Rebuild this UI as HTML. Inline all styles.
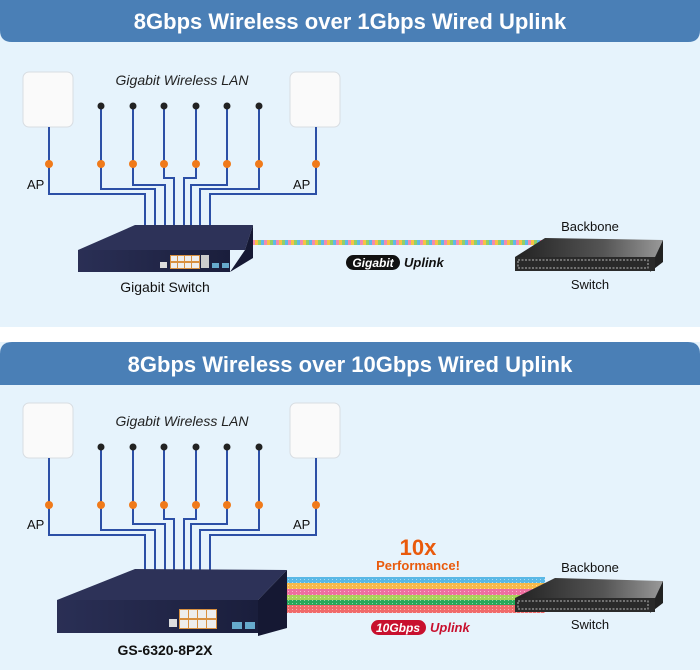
<!DOCTYPE html>
<html><head><meta charset="utf-8"><style>
html,body{margin:0;padding:0;background:#fff;}
svg{display:block;font-family:"Liberation Sans",sans-serif;}
</style></head><body>
<svg width="700" height="670" viewBox="0 0 700 670" xmlns="http://www.w3.org/2000/svg">
<defs>
<linearGradient id="sw" x1="0" x2="1" y1="0" y2="0"><stop offset="0" stop-color="#2a2f55"/><stop offset="1" stop-color="#1a1e3c"/></linearGradient>
<linearGradient id="bb" x1="0" x2="1" y1="0" y2="0"><stop offset="0" stop-color="#222"/><stop offset="0.6" stop-color="#555"/><stop offset="1" stop-color="#999"/></linearGradient>
<pattern id="rb" width="12" height="4" patternUnits="userSpaceOnUse"><rect width="3" height="4" fill="#f28ab0"/><rect x="3" width="3" height="4" fill="#f7c244"/><rect x="6" width="3" height="4" fill="#8fd06a"/><rect x="9" width="3" height="4" fill="#5fb8e8"/></pattern>
<pattern id="dots" width="4" height="3" patternUnits="userSpaceOnUse"><rect width="1" height="1" fill="#fff" opacity="0.5"/></pattern>
</defs>
<rect width="700" height="670" fill="#e6f3fc"/>
<rect x="0" y="327" width="700" height="15" fill="#fff"/>
<path d="M0,0H700V30Q700,42 688,42H12Q0,42 0,30Z" fill="#4a7fb6"/>
<text x="350" y="29" font-size="22" font-weight="bold" fill="#fff" text-anchor="middle">8Gbps Wireless over 1Gbps Wired Uplink</text>
<path d="M12,342H688Q700,342 700,354V385H0V354Q0,342 12,342Z" fill="#4a7fb6"/>
<text x="350" y="372" font-size="22" font-weight="bold" fill="#fff" text-anchor="middle">8Gbps Wireless over 10Gbps Wired Uplink</text>

<text x="182" y="85" font-size="14" font-style="italic" fill="#222" text-anchor="middle">Gigabit Wireless LAN</text>
<rect x="23" y="72" width="50" height="55" rx="6" fill="#fafafa" stroke="#d8dde2"/>
<rect x="290" y="72" width="50" height="55" rx="6" fill="#fafafa" stroke="#d8dde2"/>
<g fill="none" stroke="#2c4fa6" stroke-width="2">
<path d="M49,127V194H145V225"/><path d="M101,106V189H155V225"/><path d="M133,106V185H165V225"/><path d="M164,106V178H174V225"/>
<path d="M196,106V178H184V225"/><path d="M227,106V185H191V225"/><path d="M259,106V189H200V225"/><path d="M316,127V194H210V225"/>
</g>
<g fill="#222"><circle cx="101" cy="106" r="3.5"/><circle cx="133" cy="106" r="3.5"/><circle cx="164" cy="106" r="3.5"/><circle cx="196" cy="106" r="3.5"/><circle cx="227" cy="106" r="3.5"/><circle cx="259" cy="106" r="3.5"/></g>
<g fill="#f07a1a"><circle cx="49" cy="164" r="4"/><circle cx="101" cy="164" r="4"/><circle cx="133" cy="164" r="4"/><circle cx="164" cy="164" r="4"/><circle cx="196" cy="164" r="4"/><circle cx="227" cy="164" r="4"/><circle cx="259" cy="164" r="4"/><circle cx="316" cy="164" r="4"/></g>
<text x="27" y="189" font-size="13" fill="#111">AP</text><text x="293" y="189" font-size="13" fill="#111">AP</text>
<rect x="253" y="240" width="290" height="5" fill="url(#rb)"/>
<polygon points="78,250 135,225 253,225 245,250" fill="#2d3258"/>
<polygon points="245,250 253,225 253,258 230,272" fill="#151833"/>
<rect x="78" y="250" width="152" height="22" fill="url(#sw)"/>
<rect x="170" y="255" width="30" height="14" fill="#d89040"/>
<g fill="#eee"><rect x="171" y="256" width="6" height="5"/><rect x="178" y="256" width="6" height="5"/><rect x="185" y="256" width="6" height="5"/><rect x="192" y="256" width="7" height="5"/><rect x="171" y="263" width="6" height="5"/><rect x="178" y="263" width="6" height="5"/><rect x="185" y="263" width="6" height="5"/><rect x="192" y="263" width="7" height="5"/></g>
<rect x="201" y="255" width="8" height="13" fill="#ccc"/>
<rect x="160" y="262" width="7" height="6" fill="#ddd"/>
<rect x="212" y="263" width="7" height="5" fill="#6ac"/><rect x="222" y="263" width="7" height="5" fill="#6ac"/>
<text x="165" y="292" font-size="14" fill="#111" text-anchor="middle">Gigabit Switch</text>
<rect x="346" y="255" width="54" height="15" rx="7.5" fill="#111"/>
<text x="373" y="267" font-size="12" font-weight="bold" font-style="italic" fill="#fff" text-anchor="middle">Gigabit</text>
<text x="404" y="267" font-size="13" font-weight="bold" font-style="italic" fill="#111">Uplink</text>
<polygon points="515,257 545,238 663,240 655,257" fill="url(#bb)"/>
<polygon points="655,257 663,240 663,262 650,272" fill="#222"/>
<rect x="515" y="257" width="140" height="14" fill="#2a2a2a"/>
<rect x="518" y="260" width="130" height="8" fill="none" stroke="#bbb" stroke-dasharray="2,1.5"/>
<text x="590" y="231" font-size="13" fill="#111" text-anchor="middle">Backbone</text>
<text x="590" y="289" font-size="13" fill="#111" text-anchor="middle">Switch</text>

<text x="182" y="426" font-size="14" font-style="italic" fill="#222" text-anchor="middle">Gigabit Wireless LAN</text>
<rect x="23" y="403" width="50" height="55" rx="6" fill="#fafafa" stroke="#d8dde2"/>
<rect x="290" y="403" width="50" height="55" rx="6" fill="#fafafa" stroke="#d8dde2"/>
<g fill="none" stroke="#2c4fa6" stroke-width="2">
<path d="M49,458V535H145V570"/><path d="M101,447V530H155V570"/><path d="M133,447V524H165V570"/><path d="M164,447V519H174V570"/>
<path d="M196,447V519H184V570"/><path d="M227,447V524H191V570"/><path d="M259,447V530H200V570"/><path d="M316,458V535H210V570"/>
</g>
<g fill="#222"><circle cx="101" cy="447" r="3.5"/><circle cx="133" cy="447" r="3.5"/><circle cx="164" cy="447" r="3.5"/><circle cx="196" cy="447" r="3.5"/><circle cx="227" cy="447" r="3.5"/><circle cx="259" cy="447" r="3.5"/></g>
<g fill="#f07a1a"><circle cx="49" cy="505" r="4"/><circle cx="101" cy="505" r="4"/><circle cx="133" cy="505" r="4"/><circle cx="164" cy="505" r="4"/><circle cx="196" cy="505" r="4"/><circle cx="227" cy="505" r="4"/><circle cx="259" cy="505" r="4"/><circle cx="316" cy="505" r="4"/></g>
<text x="27" y="529" font-size="13" fill="#111">AP</text><text x="293" y="529" font-size="13" fill="#111">AP</text>
<rect x="285" y="577" width="260" height="6" fill="#5ab8e6"/>
<rect x="285" y="583" width="260" height="6" fill="#f7b94a"/>
<rect x="285" y="589" width="260" height="6" fill="#ee6fa0"/>
<rect x="285" y="595" width="260" height="6" fill="#a8d35a"/>
<rect x="285" y="600" width="260" height="5" fill="#27a85a"/>
<rect x="285" y="605" width="260" height="8" fill="#f06a6a"/>
<rect x="285" y="577" width="260" height="36" fill="url(#dots)"/>
<polygon points="57,600 135,569 287,570 258,600" fill="#2d3258"/>
<polygon points="258,600 287,570 287,628 258,636" fill="#151833"/>
<rect x="57" y="600" width="201" height="33" fill="url(#sw)"/>
<rect x="179" y="609" width="38" height="20" fill="#d89040"/>
<g fill="#eee"><rect x="180" y="610" width="8" height="8"/><rect x="189" y="610" width="8" height="8"/><rect x="198" y="610" width="8" height="8"/><rect x="207" y="610" width="9" height="8"/><rect x="180" y="620" width="8" height="8"/><rect x="189" y="620" width="8" height="8"/><rect x="198" y="620" width="8" height="8"/><rect x="207" y="620" width="9" height="8"/></g>
<rect x="169" y="619" width="8" height="8" fill="#ddd"/>
<rect x="232" y="622" width="10" height="7" fill="#6ac"/><rect x="245" y="622" width="10" height="7" fill="#6ac"/>
<text x="165" y="655" font-size="14" font-weight="bold" fill="#111" text-anchor="middle">GS-6320-8P2X</text>
<text x="418" y="555" font-size="22" font-weight="bold" fill="#e95a0c" text-anchor="middle">10x</text>
<text x="418" y="570" font-size="13" font-weight="bold" fill="#e95a0c" text-anchor="middle">Performance!</text>
<rect x="371" y="620" width="55" height="15" rx="7.5" fill="#c8102e"/>
<text x="398" y="632" font-size="12" font-weight="bold" font-style="italic" fill="#fff" text-anchor="middle">10Gbps</text>
<text x="430" y="632" font-size="13" font-weight="bold" font-style="italic" fill="#c8102e">Uplink</text>
<polygon points="515,598 555,578 663,581 655,598" fill="url(#bb)"/>
<polygon points="655,598 663,581 663,603 650,613" fill="#222"/>
<rect x="515" y="598" width="140" height="14" fill="#2a2a2a"/>
<rect x="518" y="601" width="130" height="8" fill="none" stroke="#bbb" stroke-dasharray="2,1.5"/>
<text x="590" y="572" font-size="13" fill="#111" text-anchor="middle">Backbone</text>
<text x="590" y="629" font-size="13" fill="#111" text-anchor="middle">Switch</text>
</svg>
</body></html>
